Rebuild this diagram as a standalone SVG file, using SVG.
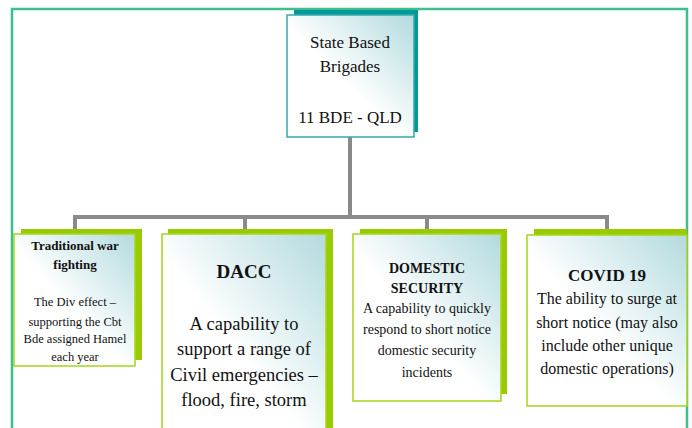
<svg xmlns="http://www.w3.org/2000/svg" width="692" height="428" viewBox="0 0 692 428">
<defs>
<linearGradient id="g" x1="0" y1="1" x2="1" y2="0">
<stop offset="0" stop-color="#ffffff"/>
<stop offset="0.45" stop-color="#ffffff"/>
<stop offset="1" stop-color="#b2dade"/>
</linearGradient>
<style>
.frame{fill:none;stroke:#3cbf8c;stroke-width:2.5}
.conn{fill:none;stroke:#8a8a8a;stroke-width:4}
.shT{fill:#009999}
.shG{fill:#99cc00}
.bxT{fill:url(#g);stroke:#33aaaa;stroke-width:1.5}
.bxG{fill:url(#g);stroke:#a6d51a;stroke-width:1.5}
</style>
</defs>
<rect class="frame" x="12" y="9" width="675" height="430"/>
<g id="connectors">
<path class="conn" d="M350,137 V217"/>
<path class="conn" d="M75,229 V217 H607 V229"/>
<path class="conn" d="M245,217 V229"/>
<path class="conn" d="M427,217 V229"/>
</g>
<g id="top">
<rect class="shT" x="294" y="10" width="124" height="122"/>
<rect class="bxT" x="287" y="15" width="127" height="122"/>
<text font-family="Liberation Serif" text-anchor="middle" fill="#111" x="350" y="48" font-size="17">State Based</text>
<text font-family="Liberation Serif" text-anchor="middle" fill="#111" x="350" y="72" font-size="17">Brigades</text>
<text font-family="Liberation Serif" text-anchor="middle" fill="#111" x="350" y="123" font-size="17">11 BDE - QLD</text>
</g>
<g id="traditional">
<rect class="shG" x="21" y="229" width="121" height="131"/>
<rect class="bxG" x="14" y="234" width="121" height="132"/>
<text font-family="Liberation Serif" font-weight="bold" text-anchor="middle" fill="#111" x="75" y="250" font-size="13">Traditional war</text>
<text font-family="Liberation Serif" font-weight="bold" text-anchor="middle" fill="#111" x="75" y="269" font-size="13">fighting</text>
<text font-family="Liberation Serif" text-anchor="middle" fill="#111" x="75" y="306" font-size="12.5">The Div effect &#8211;</text>
<text font-family="Liberation Serif" text-anchor="middle" fill="#111" x="75" y="326" font-size="12.5">supporting the Cbt</text>
<text font-family="Liberation Serif" text-anchor="middle" fill="#111" x="75" y="343" font-size="12.5">Bde assigned Hamel</text>
<text font-family="Liberation Serif" text-anchor="middle" fill="#111" x="75" y="361" font-size="12.5">each year</text>
</g>
<g id="dacc">
<rect class="shG" x="168" y="229" width="165" height="210"/>
<rect class="bxG" x="162" y="234" width="164" height="210"/>
<text font-family="Liberation Serif" font-weight="bold" text-anchor="middle" fill="#111" x="244" y="278" font-size="19">DACC</text>
<text font-family="Liberation Serif" text-anchor="middle" fill="#111" x="244" y="330" font-size="18.5">A capability to</text>
<text font-family="Liberation Serif" text-anchor="middle" fill="#111" x="244" y="355" font-size="18.5">support a range of</text>
<text font-family="Liberation Serif" text-anchor="middle" fill="#111" x="244" y="381" font-size="18.5">Civil emergencies &#8211;</text>
<text font-family="Liberation Serif" text-anchor="middle" fill="#111" x="244" y="406" font-size="18.5">flood, fire, storm</text>
</g>
<g id="domestic">
<rect class="shG" x="360" y="229" width="147" height="165"/>
<rect class="bxG" x="353" y="234" width="148" height="167"/>
<text font-family="Liberation Serif" font-weight="bold" text-anchor="middle" fill="#111" x="427" y="273" font-size="14">DOMESTIC</text>
<text font-family="Liberation Serif" font-weight="bold" text-anchor="middle" fill="#111" x="427" y="293" font-size="14">SECURITY</text>
<text font-family="Liberation Serif" text-anchor="middle" fill="#111" x="427" y="313" font-size="14">A capability to quickly</text>
<text font-family="Liberation Serif" text-anchor="middle" fill="#111" x="427" y="334" font-size="14">respond to short notice</text>
<text font-family="Liberation Serif" text-anchor="middle" fill="#111" x="427" y="355" font-size="14">domestic security</text>
<text font-family="Liberation Serif" text-anchor="middle" fill="#111" x="427" y="377" font-size="14">incidents</text>
</g>
<g id="covid">
<rect class="shG" x="534" y="229" width="153" height="177"/>
<rect class="bxG" x="527" y="235" width="160" height="171"/>
<text font-family="Liberation Serif" font-weight="bold" text-anchor="middle" fill="#111" x="607" y="281" font-size="17">COVID 19</text>
<text font-family="Liberation Serif" text-anchor="middle" fill="#111" x="607" y="304" font-size="16">The ability to surge at</text>
<text font-family="Liberation Serif" text-anchor="middle" fill="#111" x="607" y="328" font-size="16">short notice (may also</text>
<text font-family="Liberation Serif" text-anchor="middle" fill="#111" x="607" y="351" font-size="16">include other unique</text>
<text font-family="Liberation Serif" text-anchor="middle" fill="#111" x="607" y="374" font-size="16">domestic operations)</text>
</g>
</svg>
